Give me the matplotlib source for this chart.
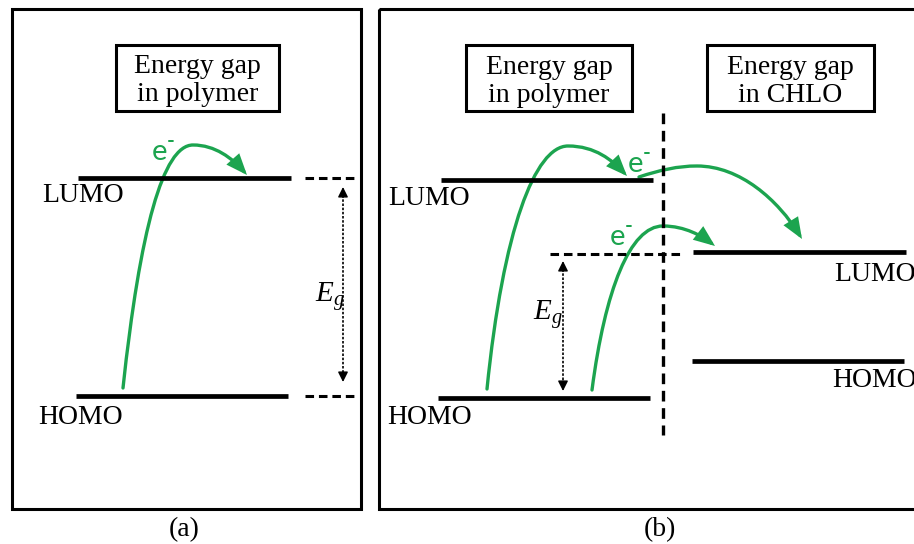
import matplotlib
matplotlib.use("Agg")
import matplotlib.pyplot as plt
from matplotlib.patches import Rectangle, FancyArrowPatch
from matplotlib.path import Path

plt.rcParams["mathtext.fontset"] = "custom"
plt.rcParams["mathtext.rm"] = "Liberation Serif"
plt.rcParams["mathtext.it"] = "Liberation Serif:italic"

SERIF = "Liberation Serif"
SANS = "Lato"
GREEN = "#1ca44f"

# ---- layout data (pixel space, y grows downward) ----
frame_x0 = [12, 379]
frame_x1 = [361, 940]
frame_y0 = [9, 9]
frame_y1 = [509, 509]
panel_tags = ["(a)", "(b)"]
tag_x = [184, 660]
tag_y = [530, 530]

title_x0 = [116, 466, 707]
title_x1 = [279, 632, 874]
title_y0 = [45, 45, 45]
title_y1 = [111, 111, 111]
title_line1 = ["Energy gap", "Energy gap", "Energy gap"]
title_line2 = ["in polymer", "in polymer", "in CHLO"]
title_base1 = [73, 74, 74]
title_base2 = [101, 102, 102]

# energy levels
level_names = ["LUMO", "HOMO", "LUMO", "HOMO", "LUMO", "HOMO"]
level_x0 = [78, 76, 441, 438, 693, 692]
level_x1 = [291, 288, 653, 650, 906, 904]
level_y = [178, 396, 180, 398, 252, 361]
label_x = [42, 38, 388, 387, 834, 832]
label_base = [202, 424, 205, 424, 281, 387]

# dashed guides: horizontal (x0, x1, y) and the vertical divider
guide_x0 = [305, 305, 550]
guide_x1 = [354, 354, 682]
guide_y = [178, 396, 254]
divider_x = 663
divider_y0 = 113
divider_y1 = 435

# band-gap arrows
eg_x = [343, 563]
eg_top = [187, 261]
eg_bottom = [382, 391]
eg_label_x = [315, 533]
eg_label_base = [302, 320]

# electron transfer paths (two cubic Bezier segments each)
curves = [
    [(123, 388), (140, 230), (163, 145), (193, 145), (215, 145), (232, 158), (247, 175)],
    [(487, 389), (503, 230), (535, 146), (568, 146), (595, 146), (612, 160), (627, 176)],
    [(592, 390), (605, 290), (630, 226), (663, 226), (685, 226), (702, 236), (715, 246)],
    [(639, 177), (660, 170), (678, 166), (697, 166), (740, 166), (778, 200), (802, 239)],
]
electron_x = [152, 628, 610]
electron_base = [160, 172, 245]

fig = plt.figure(figsize=(9.14, 5.44), dpi=100)
ax = fig.add_axes([0, 0, 1, 1])
ax.set_xlim(0, 914)
ax.set_ylim(544, 0)
ax.axis("off")

# panel frames and tags
for x0, x1, y0, y1, tag, tx, ty in zip(frame_x0, frame_x1, frame_y0, frame_y1,
                                       panel_tags, tag_x, tag_y):
    ax.add_patch(Rectangle((x0, y0), x1 - x0, y1 - y0, fill=False,
                           lw=2.2, ec="black"))
    ax.text(tx, ty, tag, family=SERIF, fontsize=20, ha="center", va="center")

# title boxes
for x0, x1, y0, y1, l1, l2, b1, b2 in zip(title_x0, title_x1, title_y0, title_y1,
                                          title_line1, title_line2,
                                          title_base1, title_base2):
    ax.add_patch(Rectangle((x0, y0), x1 - x0, y1 - y0, fill=False,
                           lw=2.2, ec="black"))
    cx = (x0 + x1) / 2
    ax.text(cx, b1, l1, family=SERIF, fontsize=20, ha="center", va="baseline")
    ax.text(cx, b2, l2, family=SERIF, fontsize=20, ha="center", va="baseline")

# energy levels
for name, x0, x1, y, lx, lb in zip(level_names, level_x0, level_x1, level_y,
                                   label_x, label_base):
    ax.plot([x0, x1], [y, y], color="black", lw=3.4, solid_capstyle="butt")
    ax.text(lx, lb, name, family=SERIF, fontsize=20, ha="left", va="baseline",
            clip_on=True)

# dashed guides
for x0, x1, y in zip(guide_x0, guide_x1, guide_y):
    ax.plot([x0, x1], [y, y], color="black", lw=2.2,
            linestyle=(0, (2.8, 1.6)), dash_capstyle="butt")
ax.plot([divider_x, divider_x], [divider_y0, divider_y1], color="black", lw=2.4,
        linestyle=(0, (3.2, 2.0)), dash_capstyle="butt")

# band-gap arrows
for x, yt, yb, lx, lb in zip(eg_x, eg_top, eg_bottom, eg_label_x, eg_label_base):
    ax.plot([x, x], [yt + 4, yb - 4], color="black", lw=1.2,
            linestyle=(0, (1.5, 1.0)))
    for tip, tail in ((yt, yt + 10), (yb, yb - 10)):
        ax.annotate("", xy=(x, tip), xytext=(x, tail),
                    arrowprops=dict(arrowstyle="-|>,head_length=0.5,head_width=0.25",
                                    color="black", lw=1.0, mutation_scale=12,
                                    shrinkA=0, shrinkB=0))
    ax.text(lx, lb, r"$E_g$", fontsize=21, ha="left", va="baseline")

# electron paths
codes = [Path.MOVETO] + [Path.CURVE4] * 6
for pts in curves:
    arrow = FancyArrowPatch(path=Path(pts, codes),
                            arrowstyle="-|>,head_length=0.55,head_width=0.22",
                            mutation_scale=20, color=GREEN, lw=2.4,
                            joinstyle="miter")
    ax.add_patch(arrow)

# electron labels
for ex, eb in zip(electron_x, electron_base):
    ax.text(ex, eb, "e", family=SANS, fontsize=21, color=GREEN,
            ha="left", va="baseline")
    ax.text(ex + 15, eb - 13, "-", family=SANS, fontsize=15, color=GREEN,
            ha="left", va="baseline", fontweight="bold")

fig.savefig("out.png", dpi=100)
